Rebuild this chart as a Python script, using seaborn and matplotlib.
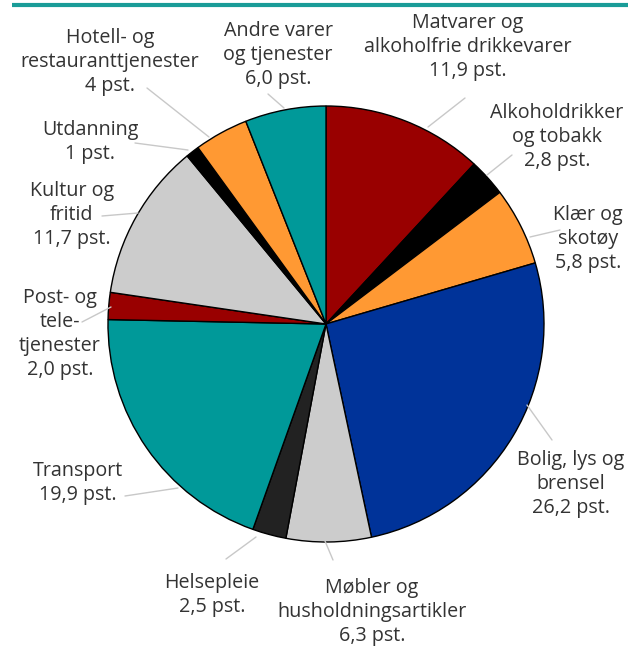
import matplotlib
matplotlib.use("Agg")
import matplotlib.pyplot as plt
import seaborn as sns

# Data: consumption shares, clockwise from 12 o'clock
categories = [
    "Matvarer og\nalkoholfrie drikkevarer",
    "Alkoholdrikker\nog tobakk",
    "Klær og\nskotøy",
    "Bolig, lys og\nbrensel",
    "Møbler og\nhusholdningsartikler",
    "Helsepleie",
    "Transport",
    "Post- og\ntele-\ntjenester",
    "Kultur og\nfritid",
    "Utdanning",
    "Hotell- og\nrestauranttjenester",
    "Andre varer\nog tjenester",
]
shares = [11.9, 2.8, 5.8, 26.2, 6.3, 2.5, 19.9, 2.0, 11.7, 1.0, 4.0, 6.0]
share_labels = ["11,9", "2,8", "5,8", "26,2", "6,3", "2,5", "19,9", "2,0", "11,7", "1", "4", "6,0"]

colors = ["#990000", "#000000", "#ff9933", "#003399", "#cccccc", "#222222",
          "#009999", "#990000", "#cccccc", "#000000", "#ff9933", "#009999"]

# Layout in pixel coordinates (x, y from top): label centre, connector start, connector end
label_pos = [(468, 47), (557, 137), (588, 239), (571, 484), (372, 612), (212, 595),
             (78, 483), (60, 334), (72, 215), (90, 142), (110, 62), (278, 55)]
lines = [((465, 98), (428, 127)), ((512, 155), (487, 175)), ((560, 230), (530, 237)),
         ((527, 405), (552, 440)), ((325, 541), (333, 560)), ((226, 559), (256, 537)),
         ((125, 496), (178, 488)), ((82, 322), (111, 307)), ((102, 216), (138, 213)),
         ((135, 143), (188, 150)), ((147, 88), (209, 137)), ((268, 94), (284, 108))]

sns.set_theme(style="white")
plt.rcParams["font.family"] = ["Open Sans", "DejaVu Sans"]

W, H = 628, 648
fig = plt.figure(figsize=(W / 100, H / 100), dpi=100)
ax = fig.add_axes([0, 0, 1, 1])

ax.pie(shares, colors=colors, startangle=90, counterclock=False,
       center=(326, H - 324), radius=218,
       wedgeprops=dict(edgecolor="black", linewidth=1))

ax.set_xlim(0, W)
ax.set_ylim(0, H)
ax.set_aspect("equal")
ax.axis("off")

# teal rule at the top
ax.plot([12, W], [H - 5, H - 5], color="#1a9c98", lw=3, solid_capstyle="butt")

for cat, lab, (tx, ty), (p0, p1) in zip(categories, share_labels, label_pos, lines):
    ax.text(tx, H - ty, f"{cat}\n{lab} pst.", ha="center", va="center",
            fontsize=14.2, color="#333333", linespacing=1.25)
    ax.plot([p0[0], p1[0]], [H - p0[1], H - p1[1]], color="#c8c8c8", lw=1)

fig.savefig("out.png", dpi=100)
